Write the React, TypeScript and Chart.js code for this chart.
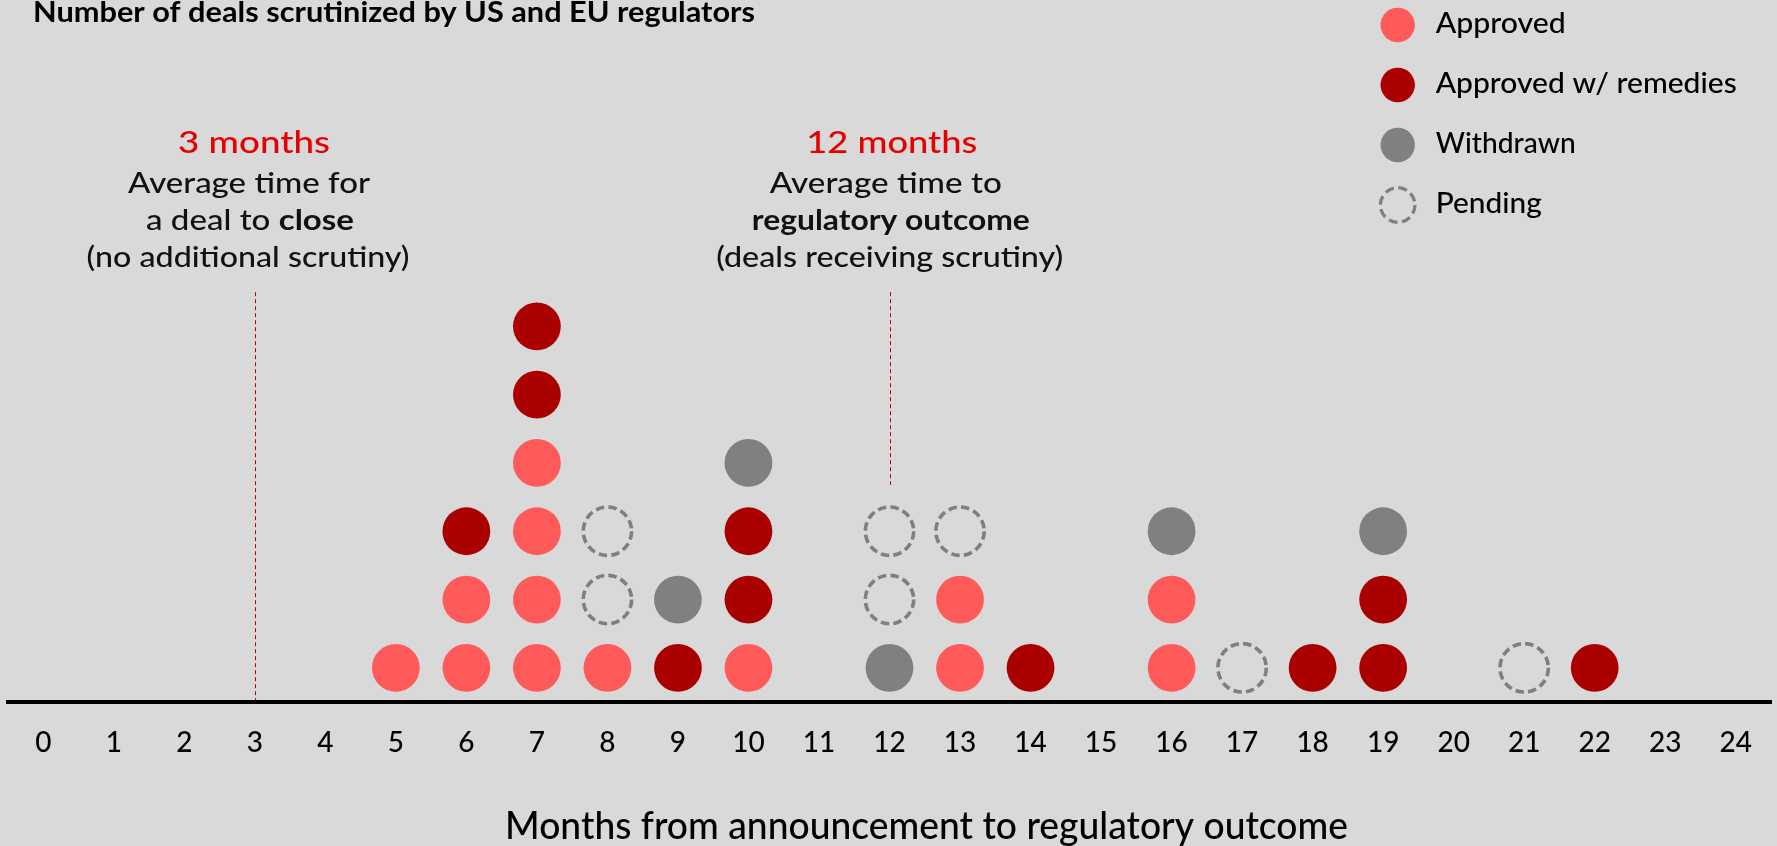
import React, { useEffect, useRef } from "react";
import { Chart, registerables } from "chart.js";

Chart.register(...registerables);

// ---- Data -------------------------------------------------------------
// Month ticks shown along the horizontal axis
const MONTH_TICKS = [0, 1, 2, 3, 4, 5, 6, 7, 8, 9, 10, 11, 12, 13, 14, 15, 16, 17, 18, 19, 20, 21, 22, 23, 24];

// Months (from announcement) at which deals reached an outcome
const MONTHS = [5, 6, 7, 8, 9, 10, 12, 13, 14, 16, 17, 18, 19, 21, 22];
// Number of deals per month, by outcome (stacked bottom-up in this order)
const APPROVED = [1, 2, 4, 1, 0, 1, 0, 2, 0, 2, 0, 0, 0, 0, 0];
const REMEDIES = [0, 1, 2, 0, 1, 2, 0, 0, 1, 0, 0, 1, 2, 0, 1];
const WITHDRAWN = [0, 0, 0, 0, 1, 1, 1, 0, 0, 1, 0, 0, 1, 0, 0];
const PENDING = [0, 0, 0, 2, 0, 0, 2, 1, 0, 0, 1, 0, 0, 1, 0];

const SERIES_LABELS = ["Approved", "Approved w/ remedies", "Withdrawn", "Pending"];

const TITLE = "Number of deals scrutinized by US and EU regulators";
const X_TITLE = "Months from announcement to regulatory outcome";

// Reference averages marked with dashed lines
const AVERAGE_MONTHS = [3, 12];
const AVERAGE_HEADLINES = ["3 months", "12 months"];
const AVERAGE_NOTES: Array<Array<Array<[string, boolean]>>> = [
  [[["Average time for", false]], [["a deal to ", false], ["close", true]], [["(no additional scrutiny)", false]]],
  [[["Average time to", false]], [["regulatory outcome", true]], [["(deals receiving scrutiny)", false]]],
];
const AVERAGE_LINE_TOP = [6, 6];
const AVERAGE_LINE_BOTTOM = [0, 3.15];

// ---- Styling ----------------------------------------------------------
const BG = "#d9d9d9";
const COLORS = ["#ff5a5a", "#aa0000", "#808080", "#7f7f7f"];
const RED_TEXT = "#e60000";
const FAMILY = "Lato, 'Open Sans', 'Noto Sans', sans-serif";
const W = 1777;
const H = 846;
const AREA_LEFT = 8;
const AREA_RIGHT = 1771;
const AREA_TOP = 19;
const AREA_BOTTOM = 702;

// text widths/positions (px) for the free-standing labels
const ANNOT_OFFSETS = [
  [-0.8, -5.8, -4.8, -6.8],
  [2.2, -3.7, 1.3, 0.2],
];
const ANNOT_WIDTHS = [
  [152, 242, 208, 323],
  [171, 232, 278, 347],
];
const ANNOT_BASELINES = [153, 193, 230, 267];
const LEGEND_WIDTHS = [130, 301, 140, 106];

function buildStacks() {
  const counts = [APPROVED, REMEDIES, WITHDRAWN, PENDING];
  const out: Array<Array<{ x: number; y: number }>> = [[], [], [], []];
  MONTHS.forEach((m, i) => {
    let level = 0;
    counts.forEach((series, s) => {
      for (let k = 0; k < series[i]; k++) {
        out[s].push({ x: m, y: level + 0.5 });
        level += 1;
      }
    });
  });
  return out;
}

function font(weight: number, size: number) {
  return `${weight} ${size}px ${FAMILY}`;
}

// Draws a run of (text, bold) parts squeezed/stretched to a given width
function drawFitted(
  ctx: CanvasRenderingContext2D,
  parts: Array<[string, boolean]>,
  x: number,
  y: number,
  width: number,
  align: "left" | "center",
  size: number,
  color: string,
  weight = 500,
  boldWeight = 700
) {
  let natural = 0;
  const widths = parts.map(([t, b]) => {
    ctx.font = font(b ? boldWeight : weight, size);
    const w = ctx.measureText(t).width;
    natural += w;
    return w;
  });
  const k = width / natural;
  const left = align === "center" ? x - width / 2 : x;
  ctx.save();
  ctx.translate(left, y);
  ctx.scale(k, 1);
  ctx.textAlign = "left";
  ctx.textBaseline = "alphabetic";
  ctx.fillStyle = color;
  let cx = 0;
  parts.forEach(([t, b], i) => {
    ctx.font = font(b ? boldWeight : weight, size);
    ctx.fillText(t, cx, 0);
    cx += widths[i];
  });
  ctx.restore();
}

const decorations = {
  id: "decorations",
  beforeDraw(chart: any) {
    const { ctx } = chart;
    ctx.save();
    ctx.fillStyle = BG;
    ctx.fillRect(0, 0, chart.width, chart.height);
    ctx.restore();
  },
  beforeDatasetsDraw(chart: any) {
    const { ctx, scales } = chart;
    ctx.save();
    ctx.strokeStyle = "#c00000";
    ctx.lineWidth = 1;
    ctx.setLineDash([4, 3]);
    AVERAGE_MONTHS.forEach((m, i) => {
      const x = Math.round(scales.x.getPixelForValue(m)) + 0.5;
      ctx.beginPath();
      ctx.moveTo(x, scales.y.getPixelForValue(AVERAGE_LINE_TOP[i]));
      ctx.lineTo(x, scales.y.getPixelForValue(AVERAGE_LINE_BOTTOM[i]) - 2);
      ctx.stroke();
    });
    ctx.restore();
  },
  beforeDatasetDraw(chart: any, args: any) {
    chart.ctx.save();
    if (args.index === 3) chart.ctx.setLineDash([8.4, 4.3]);
  },
  afterDatasetDraw(chart: any) {
    chart.ctx.restore();
  },
  afterDraw(chart: any) {
    const { ctx, scales } = chart;
    // title
    drawFitted(ctx, [[TITLE, true]], 33, 22, 722, "left", 28, "#000", 700, 700);
    // axis title
    drawFitted(ctx, [[X_TITLE, false]], 505, 839, 843, "left", 38, "#000", 500);
    // average annotations
    AVERAGE_MONTHS.forEach((m, i) => {
      const cx = scales.x.getPixelForValue(m);
      drawFitted(ctx, [[AVERAGE_HEADLINES[i], false]], cx + ANNOT_OFFSETS[i][0], ANNOT_BASELINES[0], ANNOT_WIDTHS[i][0], "center", 30, RED_TEXT, 500);
      AVERAGE_NOTES[i].forEach((parts, j) => {
        drawFitted(ctx, parts, cx + ANNOT_OFFSETS[i][j + 1], ANNOT_BASELINES[j + 1], ANNOT_WIDTHS[i][j + 1], "center", 29, "#111", 500, 700);
      });
    });
    // legend
    SERIES_LABELS.forEach((label, i) => {
      const cy = 25 + 60 * i;
      ctx.save();
      ctx.beginPath();
      if (i === 3) {
        ctx.setLineDash([9, 4.6]);
        ctx.strokeStyle = COLORS[i];
        ctx.lineWidth = 3.3;
        ctx.arc(1397.7, cy, 17.3, 0, Math.PI * 2);
        ctx.stroke();
      } else {
        ctx.fillStyle = COLORS[i];
        ctx.arc(1397.7, cy, 17.2, 0, Math.PI * 2);
        ctx.fill();
      }
      ctx.restore();
      drawFitted(ctx, [[label, false]], 1435.7, cy + 7.5, LEGEND_WIDTHS[i], "left", 29, "#000", 500);
    });
  },
};

// Pins the plot area to fixed pixel bounds after Chart.js lays out the boxes
const pinArea = {
  id: "pinArea",
  afterLayout(chart: any) {
    const area = chart.chartArea;
    area.left = AREA_LEFT;
    area.right = AREA_RIGHT;
    area.top = AREA_TOP;
    area.bottom = AREA_BOTTOM;
    area.width = AREA_RIGHT - AREA_LEFT;
    area.height = AREA_BOTTOM - AREA_TOP;
    const { x, y } = chart.scales;
    x.left = AREA_LEFT;
    x.right = AREA_RIGHT;
    x.width = AREA_RIGHT - AREA_LEFT;
    x.top = AREA_BOTTOM;
    x.bottom = H;
    x.height = H - AREA_BOTTOM;
    x.paddingLeft = 0;
    x.paddingRight = 0;
    x.configure();
    x._labelItems = null;
    y.top = AREA_TOP;
    y.bottom = AREA_BOTTOM;
    y.height = AREA_BOTTOM - AREA_TOP;
    y.left = AREA_LEFT;
    y.right = AREA_LEFT;
    y.configure();
  },
};

export default function App() {
  const ref = useRef<HTMLCanvasElement | null>(null);

  useEffect(() => {
    document.body.style.margin = "0";
    document.body.style.background = BG;
    const canvas = ref.current!;
    const stacks = buildStacks();
    const chart = new Chart(canvas, {
      type: "scatter",
      data: {
        datasets: SERIES_LABELS.map((label, s) => ({
          label,
          data: stacks[s],
          pointRadius: s === 3 ? 24.2 : 23.9,
          pointBackgroundColor: s === 3 ? "rgba(0,0,0,0)" : COLORS[s],
          pointBorderColor: COLORS[s],
          pointBorderWidth: s === 3 ? 3.6 : 0,
          showLine: false,
          clip: false as any,
        })),
      },
      options: {
        responsive: false,
        animation: false,
        events: [],
        layout: { padding: { left: AREA_LEFT, right: W - AREA_RIGHT, top: AREA_TOP, bottom: 0 } },
        plugins: {
          legend: { display: false },
          tooltip: { enabled: false },
          title: { display: false },
        },
        scales: {
          x: {
            type: "linear",
            min: -0.5,
            max: 24.5,
            afterBuildTicks: (scale: any) => {
              scale.ticks = MONTH_TICKS.map((v) => ({ value: v }));
            },
            afterFit: (scale: any) => {
              scale.height = H - AREA_BOTTOM;
              scale.paddingLeft = 0;
              scale.paddingRight = 0;
            },
            grid: { display: false, drawTicks: false },
            border: { display: true, color: "#000", width: 4 },
            ticks: {
              padding: 24,
              autoSkip: false,
              maxRotation: 0,
              color: "#000",
              font: { family: FAMILY, size: 28, weight: "500" as any },
            },
          },
          y: { display: false, min: 0, max: 10 },
        },
      },
      plugins: [pinArea, decorations],
    });
    return () => chart.destroy();
  }, []);

  return (
    <div style={{ position: "fixed", left: 0, top: 0, width: W, height: H, background: BG }}>
      <canvas ref={ref} width={W} height={H} style={{ width: W, height: H, display: "block" }} />
    </div>
  );
}
